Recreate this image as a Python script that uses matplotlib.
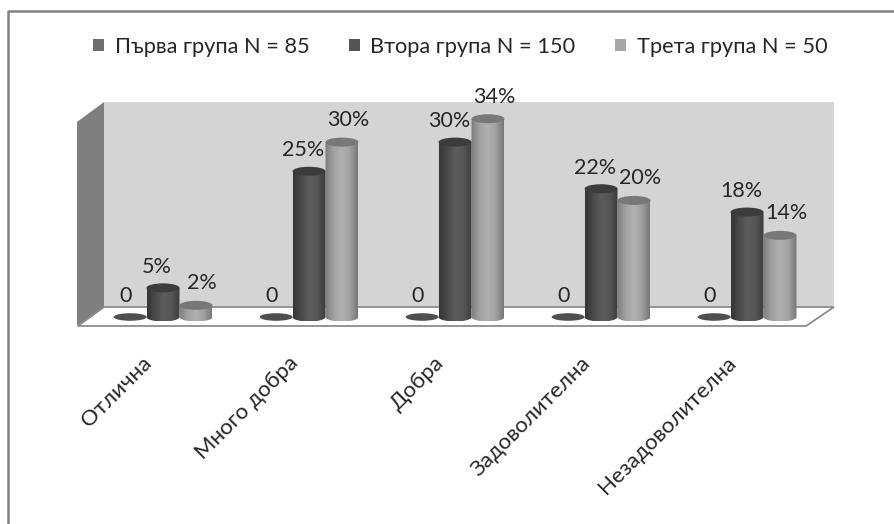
import numpy as np
import matplotlib
matplotlib.use('Agg')
import matplotlib.pyplot as plt
from matplotlib.colors import LinearSegmentedColormap
from matplotlib.patches import Ellipse, Patch, Polygon, PathPatch
from matplotlib.path import Path

plt.rcParams['font.family'] = ['Lato', 'Open Sans', 'DejaVu Sans']

categories = ['Отлична', 'Много добра', 'Добра', 'Задоволителна', 'Незадоволителна']
series_names = ['Първа група N = 85', 'Втора група N = 150', 'Трета група N = 50']
first_group = [0, 0, 0, 0, 0]
second_group = [5, 25, 30, 22, 18]
third_group = [2, 30, 34, 20, 14]

W, H = 894, 524
PX_X = 146.0   # px per category
PX_Y = 5.83    # px per percent
X0, Y0 = 163, 317   # pixel of category 0 / 0 %
BAR_W = 33 / PX_X
CAP = 4.5 / PX_Y
TEXT = '#262626'
LABEL_SIZE = 15.5

dark_cmap = LinearSegmentedColormap.from_list('d', ['#363636', '#4a4a4a', '#5c5c5c', '#565656', '#3c3c3c'])
light_cmap = LinearSegmentedColormap.from_list('l', ['#7c7c7c', '#a0a0a0', '#b0b0b0', '#a2a2a2', '#787878'])

fig = plt.figure(figsize=(W / 100, H / 100), dpi=100, facecolor='white')

# background: frame and 3D box in pixel coordinates
bg = fig.add_axes([0, 0, 1, 1])
bg.set_xlim(0, W)
bg.set_ylim(H, 0)
bg.axis('off')
bg.plot([8, 8, W], [H, 11, 11], color='#808080', lw=1.8)
bg.add_patch(Polygon([(104, 102), (834, 102), (834, 307), (104, 307)], fc='#d4d4d4', ec='none'))
bg.add_patch(Polygon([(77, 122), (104, 102), (104, 307), (77, 326)], fc='#7f7f7f', ec='none'))
bg.add_patch(Polygon([(78, 326), (104, 307), (834, 307), (806, 326)], fc='white', ec='#8c8c8c', lw=1.3))

# main axes: x = category, y = percent
ax = fig.add_axes([0, 0, 1, 1])
ax.patch.set_alpha(0)
ax.axis('off')
xlim = (-X0 / PX_X, (W - X0) / PX_X)
ylim = ((Y0 - H) / PX_Y, Y0 / PX_Y)


def cylinder(x, v, cmap, top):
    t = np.linspace(0, np.pi, 30)
    xs = x + BAR_W / 2 * np.cos(t)
    ys = -CAP * np.sin(t)
    verts = np.r_[[(x - BAR_W / 2, v)], [(x + BAR_W / 2, v)], np.c_[xs, ys]]
    clip = PathPatch(Path(np.r_[verts, verts[:1]]), transform=ax.transData, fc='none', ec='none')
    ax.add_patch(clip)
    im = ax.imshow(np.linspace(0, 1, 64)[None, :], extent=(x - BAR_W / 2, x + BAR_W / 2, -CAP, v),
                   aspect='auto', cmap=cmap, zorder=3)
    im.set_clip_path(clip)
    ax.add_patch(Ellipse((x, v), BAR_W, 2 * CAP, fc=top, ec='none', zorder=3.1))


for i in range(len(categories)):
    ax.add_patch(Ellipse((i - 0.225, first_group[i]), BAR_W, 1.3, fc='#4f4f4f', ec='none', zorder=2))
    ax.annotate(str(first_group[i]), (i - 0.225, first_group[i]), xytext=(-5, 21), textcoords='offset pixels',
                ha='center', va='center', fontsize=LABEL_SIZE, color=TEXT, zorder=5)
    cylinder(i, second_group[i], dark_cmap, '#3c3c3c')
    ax.annotate(f'{second_group[i]}%', (i, second_group[i]), xytext=(-6, 21), textcoords='offset pixels',
                ha='center', va='center', fontsize=LABEL_SIZE, color=TEXT, zorder=5)
    cylinder(i + 0.226, third_group[i], light_cmap, '#787878')
    ax.annotate(f'{third_group[i]}%', (i + 0.226, third_group[i]), xytext=(6, 22), textcoords='offset pixels',
                ha='center', va='center', fontsize=LABEL_SIZE, color=TEXT, zorder=5)
    ax.annotate(categories[i], (i, 0), xytext=(-14, -43), textcoords='offset pixels', rotation=45,
                rotation_mode='anchor', ha='right', va='center', fontsize=16, color=TEXT)

ax.set_xlim(xlim)
ax.set_ylim(ylim)

handles = [Patch(fc=c, ec='none') for c in ['#6e6e6e', '#555555', '#a6a6a6']]
fig.legend(handles, series_names, ncol=3, loc='center', bbox_to_anchor=(460 / W, 1 - 47 / H), frameon=False,
           fontsize=15.7, labelcolor=TEXT, handlelength=0.5, handleheight=0.5, handletextpad=0.5, columnspacing=1.8)

fig.savefig('out.png', dpi=100, facecolor='white')
